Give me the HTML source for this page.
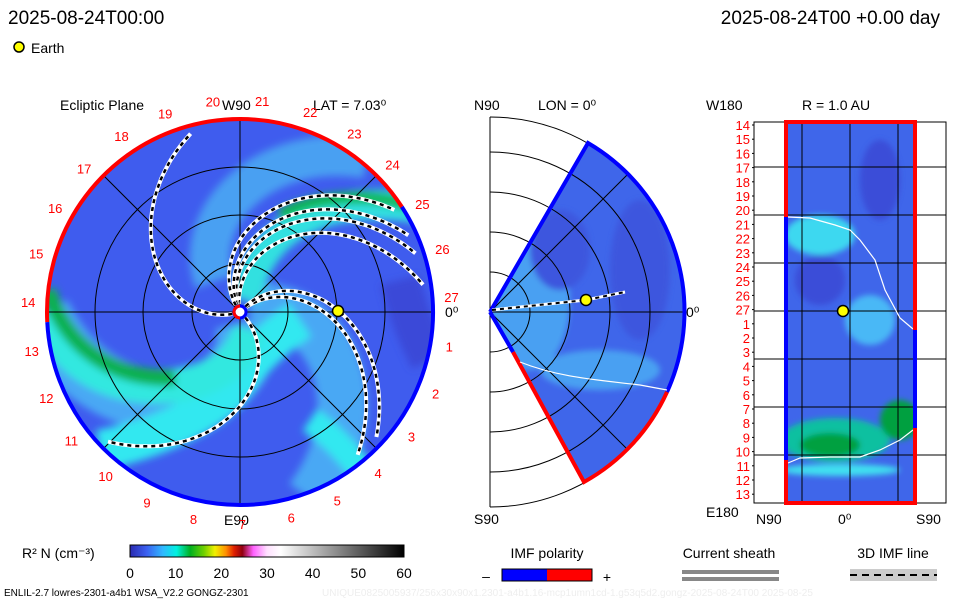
<!DOCTYPE html>
<html><head><meta charset="utf-8"><style>
body{margin:0;background:#fff;width:960px;height:600px;overflow:hidden;font-family:"Liberation Sans",sans-serif}
svg text{font-family:"Liberation Sans",sans-serif}
</style></head><body>
<svg id="s" width="960" height="600" viewBox="0 0 960 600">
<defs>
<linearGradient id="cb" x1="0" x2="1">
<stop offset="0" stop-color="#2a2ab0"/><stop offset="0.06" stop-color="#3b5ff0"/><stop offset="0.12" stop-color="#30b8ff"/><stop offset="0.17" stop-color="#00f0e0"/><stop offset="0.22" stop-color="#00b020"/><stop offset="0.27" stop-color="#70d000"/><stop offset="0.31" stop-color="#f0f000"/><stop offset="0.35" stop-color="#ff9000"/><stop offset="0.38" stop-color="#e02000"/><stop offset="0.41" stop-color="#900010"/><stop offset="0.45" stop-color="#ff60ff"/><stop offset="0.5" stop-color="#ffe0ff"/><stop offset="0.55" stop-color="#ffffff"/><stop offset="1" stop-color="#000"/>
</linearGradient>
<linearGradient id="polg" x1="0" x2="1"><stop offset="0.5" stop-color="#00f"/><stop offset="0.5" stop-color="#f00"/></linearGradient>
<filter id="bl"><feGaussianBlur stdDeviation="4"/></filter>
<filter id="bl2"><feGaussianBlur stdDeviation="3"/></filter>
<clipPath id="dc"><circle cx="240" cy="312" r="193"/></clipPath>
<clipPath id="wc"><path d="M490,312 L588,143 A195,195 0 0 1 584,482 Z"/></clipPath>
<clipPath id="rc"><rect x="786" y="122" width="129" height="381"/></clipPath>
</defs>
<text x="8" y="24" font-size="19">2025-08-24T00:00</text>
<text x="940" y="24" font-size="19" text-anchor="end">2025-08-24T00 +0.00 day</text>
<circle cx="19" cy="47" r="5" fill="#ff0" stroke="#000" stroke-width="1.5"/>
<text x="31" y="53" font-size="14">Earth</text>

<g>
<text x="60" y="110" font-size="14">Ecliptic Plane</text>
<text x="222" y="110" font-size="14">W90</text>
<text x="313" y="110" font-size="14">LAT = 7.03⁰</text>
<circle cx="240" cy="312" r="193" fill="#3f5cee"/>
<g clip-path="url(#dc)"><g id="diskfx" filter="url(#bl)"></g></g>
<g id="diskgrid" stroke="#000" stroke-width="1" fill="none"></g>
<g id="spirals"></g>
<path id="redarc" fill="none" stroke="#f00" stroke-width="4"/>
<path id="bluearc" fill="none" stroke="#00f" stroke-width="4"/>
<circle cx="240" cy="312" r="6" fill="#fff" stroke="#00f" stroke-width="3"/>
<path d="M240,306 A6,6 0 0 0 240,318" fill="none" stroke="#f00" stroke-width="3"/>
<circle cx="338" cy="311" r="5.5" fill="#ff0" stroke="#000" stroke-width="1.5"/>
<text x="445" y="317" font-size="14">0⁰</text>
<text x="224" y="525" font-size="14">E90</text>
<g id="lonlabels" font-size="13" fill="#f00"></g>
</g>

<g>
<text x="474" y="110" font-size="14">N90</text>
<text x="538" y="110" font-size="14">LON = 0⁰</text>
<path d="M490,312 L588,143 A195,195 0 0 1 584,482 Z" fill="#3f66ea"/>
<g clip-path="url(#wc)" filter="url(#bl2)">
<ellipse cx="530" cy="300" rx="40" ry="70" fill="#4aa0f2"/>
<ellipse cx="560" cy="250" rx="30" ry="40" fill="#3c56de"/>
<ellipse cx="600" cy="370" rx="60" ry="20" fill="#4aa0f2"/>
<ellipse cx="640" cy="270" rx="30" ry="70" fill="#3c56de"/>
</g>
<g id="wgrid" stroke="#000" fill="none" stroke-width="1"></g>
<path d="M490,312 L588,143 A195,195 0 0 1 667,392" fill="none" stroke="#00f" stroke-width="4"/>
<path d="M667,392 A195,195 0 0 1 584,482 L513,352" fill="none" stroke="#f00" stroke-width="4"/>
<path d="M513,352 L490,312" fill="none" stroke="#00f" stroke-width="4"/>
<path d="M520,362 C560,378 600,380 640,385 L667,390" fill="none" stroke="#fff" stroke-width="1.2"/>
<path d="M492,310 L586,300 L625,292" fill="none" stroke="#fff" stroke-width="3"/>
<path d="M492,310 L586,300 L625,292" fill="none" stroke="#000" stroke-width="2" stroke-dasharray="4 4"/>
<circle cx="586" cy="300" r="5.5" fill="#ff0" stroke="#000" stroke-width="1.5"/>
<text x="686" y="317" font-size="14">0⁰</text>
<text x="474" y="524" font-size="14">S90</text>
</g>

<g>
<text x="706" y="110" font-size="14">W180</text>
<text x="802" y="110" font-size="14">R = 1.0 AU</text>
<rect x="754" y="122" width="192" height="381" fill="none" stroke="#000"/>
<rect x="786" y="122" width="129" height="381" fill="#3f66ea"/>
<g clip-path="url(#rc)" filter="url(#bl2)">
<ellipse cx="870" cy="320" rx="25" ry="25" fill="#4ab8f6"/>
<ellipse cx="820" cy="235" rx="35" ry="20" fill="#3ed8f0"/>
<ellipse cx="835" cy="440" rx="55" ry="22" fill="#10c0a0"/>
<ellipse cx="830" cy="445" rx="30" ry="12" fill="#00a040"/>
<ellipse cx="900" cy="420" rx="20" ry="20" fill="#00a040"/>
<ellipse cx="840" cy="470" rx="60" ry="6" fill="#40e0f0"/>
<ellipse cx="880" cy="180" rx="20" ry="40" fill="#3a4ed8"/>
<ellipse cx="820" cy="280" rx="25" ry="25" fill="#3a4ed8"/>
</g>
<g id="rgrid" stroke="#000" stroke-width="1"></g>
<path d="M788,217 L810,218 L835,225 L850,230 L860,240 L875,260 L885,290 L900,318 L913,329" fill="none" stroke="#fff" stroke-width="1.2"/>
<path d="M788,463 L800,458 L830,457 L860,457 L880,450 L900,440 L913,430" fill="none" stroke="#fff" stroke-width="1.2"/>
<path d="M786,217 V122 H915 V330" fill="none" stroke="#f00" stroke-width="4"/>
<path d="M915,330 V428" fill="none" stroke="#00f" stroke-width="4"/>
<path d="M915,428 V503 H786 V460" fill="none" stroke="#f00" stroke-width="4"/>
<path d="M786,460 V217" fill="none" stroke="#00f" stroke-width="4"/>
<circle cx="843" cy="311" r="5.5" fill="#ff0" stroke="#000" stroke-width="1.5"/>
<g id="rlabels" font-size="13" fill="#f00" text-anchor="end"></g>
<text x="706" y="517" font-size="14">E180</text>
<text x="756" y="524" font-size="14">N90</text>
<text x="838" y="524" font-size="14">0⁰</text>
<text x="916" y="524" font-size="14">S90</text>
</g>

<g>
<text x="22" y="558" font-size="14">R² N (cm⁻³)</text>
<rect x="130" y="545" width="274" height="12" fill="url(#cb)" stroke="#000"/>
<g id="cbticks" font-size="14" text-anchor="middle"></g>
</g>
<g>
<text x="547" y="558" font-size="14" text-anchor="middle">IMF polarity</text>
<rect x="502" y="569" width="90" height="12" fill="url(#polg)" stroke="#000"/>
<text x="486" y="581" font-size="14" text-anchor="middle">–</text>
<text x="607" y="582" font-size="14" text-anchor="middle">+</text>
</g>
<g>
<text x="729" y="558" font-size="14" text-anchor="middle">Current sheath</text>
<rect x="682" y="570" width="97" height="4" fill="#888"/><rect x="682" y="577" width="97" height="4" fill="#888"/>
</g>
<g>
<text x="893" y="558" font-size="14" text-anchor="middle">3D IMF line</text>
<rect x="850" y="569" width="87" height="12" fill="#ccc"/>
<line x1="850" y1="575" x2="937" y2="575" stroke="#000" stroke-width="2" stroke-dasharray="7 5"/>
</g>
<text x="4" y="596" font-size="10">ENLIL-2.7 lowres-2301-a4b1 WSA_V2.2 GONGZ-2301</text>
<text x="322" y="596" font-size="10" fill="#eee">UNIQUE0825005937/256x30x90x1.2301-a4b1.16-mcp1umn1cd-1.g53q5d2.gongz-2025-08-24T00   2025-08-25</text>
</svg>
<script>
const NS="http://www.w3.org/2000/svg";
const cbTicks=[0,10,20,30,40,50,60];
const lonLabels=[1,2,3,4,5,6,7,8,9,10,11,12,13,14,15,16,17,18,19,20,21,22,23,24,25,26,27];
const rLabels=[14,15,16,17,18,19,20,21,22,23,24,25,26,27,1,2,3,4,5,6,7,8,9,10,11,12,13];
const spiralStarts=[198,317,42,50,101,111,117,126];
const gridRadii=[48,97,145];
function el(t,a,p){const e=document.createElementNS(NS,t);for(const k in a)e.setAttribute(k,a[k]);p.appendChild(e);return e;}
const cx=240,cy=312,R=193,RATE=0.5;
function spiralPath(a0,rate,r0,r1){let d='';
 for(let r=r0;r<=r1;r+=3){const ang=(a0-r*rate)*Math.PI/180;const x=cx+r*Math.cos(ang),y=cy-r*Math.sin(ang);d+=(d?'L':'M')+x.toFixed(1)+','+y.toFixed(1);}
 return d;}
const cbg=document.getElementById('cbticks');
cbTicks.forEach(v=>{const x=130+v/60*274;
 const t=el('text',{x:x,y:578},cbg);t.textContent=v;
 
 });
// disk bands
const fx=document.getElementById('diskfx');
el('path',{d:spiralPath(300,0.6,10,200),stroke:'#4aa8f4','stroke-width':60,fill:'none'},fx);
el('path',{d:spiralPath(20,0.45,10,200),stroke:'#4aa8f4','stroke-width':50,fill:'none'},fx);
el('path',{d:spiralPath(150,0.5,40,200),stroke:'#48a0f2','stroke-width':40,fill:'none'},fx);
el('path',{d:'M300,320 C270,340 250,360 230,390 C200,420 150,440 100,450',stroke:'#30e8f0','stroke-width':40,fill:'none'},fx);
el('path',{d:'M47,312 C60,360 110,395 180,385 C220,378 240,360 250,330',stroke:'#30e8e0','stroke-width':34,fill:'none'},fx);
el('path',{d:'M48,290 C65,345 110,380 175,378',stroke:'#10b050','stroke-width':16,fill:'none'},fx);
el('path',{d:'M245,300 C260,230 320,190 430,210',stroke:'#30e0e0','stroke-width':30,fill:'none'},fx);
el('path',{d:'M280,215 C330,190 390,195 428,212',stroke:'#10b850','stroke-width':12,fill:'none'},fx);
el('path',{d:'M310,420 C340,440 360,470 370,480',stroke:'#30e8f0','stroke-width':26,fill:'none'},fx);
el('path',{d:'M400,280 C410,320 420,340 430,360',stroke:'#3a48d8','stroke-width':40,fill:'none'},fx);
// grid
const g=document.getElementById('diskgrid');
gridRadii.forEach(r=>el('circle',{cx:cx,cy:cy,r:r},g));
[0,45,90,135].forEach(a=>{const c=Math.cos(a*Math.PI/180),s=Math.sin(a*Math.PI/180);
 el('line',{x1:cx-R*c,y1:cy-R*s,x2:cx+R*c,y2:cy+R*s},g);});
// spirals
const sp=document.getElementById('spirals');
spiralStarts.forEach(a0=>{const d=spiralPath(a0,RATE,8,186);
 el('path',{d:d,fill:'none',stroke:'#fff','stroke-width':4},sp);
 const p=el('path',{d:d,fill:'none',stroke:'#000','stroke-width':2.5,'stroke-dasharray':'4 4'},sp);
 
 });
function arc(a1,a2){const p1=[cx+R*Math.cos(a1*Math.PI/180),cy-R*Math.sin(a1*Math.PI/180)],p2=[cx+R*Math.cos(a2*Math.PI/180),cy-R*Math.sin(a2*Math.PI/180)];
 return `M${p1[0]},${p1[1]} A${R},${R} 0 ${(a2-a1)>180?1:0} 0 ${p2[0]},${p2[1]}`;}
document.getElementById('redarc').setAttribute('d',arc(33,183));
document.getElementById('bluearc').setAttribute('d',arc(183,393));
const lg=document.getElementById('lonlabels');
lonLabels.forEach(k=>{const a=(4+(27-k)*13.333)*Math.PI/180;const x=cx+212*Math.cos(a),y=cy-212*Math.sin(a)+5;
 const t=el('text',{x:x.toFixed(1),y:y.toFixed(1),'text-anchor':'middle'},lg);t.textContent=k;
 
 });
const wg=document.getElementById('wgrid');
[40,80,120,160,195].forEach(r=>el('path',{d:`M490,${312-r} A${r},${r} 0 0 1 490,${312+r}`},wg));
el('line',{x1:490,y1:117,x2:490,y2:507},wg);
el('line',{x1:490,y1:312,x2:685,y2:312},wg);
[45,-45].forEach(a=>{const c=Math.cos(a*Math.PI/180),s=Math.sin(a*Math.PI/180);el('line',{x1:490,y1:312,x2:490+195*c,y2:312-195*s},wg);});
const rg=document.getElementById('rgrid');
[167,215,263,311,359,407,455].forEach(y=>el('line',{x1:754,y1:y,x2:946,y2:y},rg));
[802,850,898].forEach(x=>el('line',{x1:x,y1:122,x2:x,y2:503},rg));
const rl=document.getElementById('rlabels');
rLabels.forEach((k,i)=>{const y=125+i*14.2;const t=el('text',{x:750,y:y+5},rl);t.textContent=k;
 
 
 el('line',{x1:752,y1:y,x2:754,y2:y,stroke:'#000'},rl);});
</script>
</body></html>
